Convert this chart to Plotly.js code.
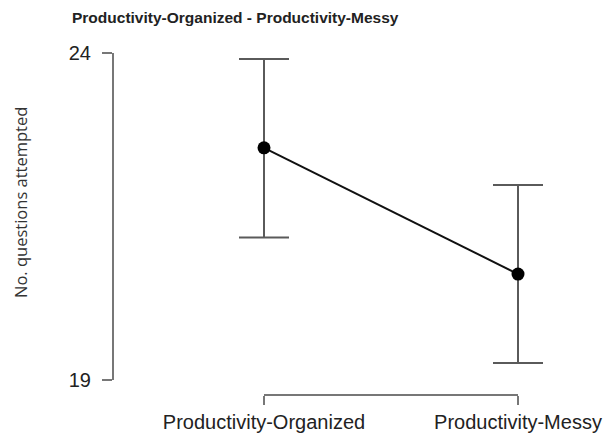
<!DOCTYPE html>
<html>
<head>
<meta charset="utf-8">
<script src="https://cdn.plot.ly/plotly-3.0.1.min.js"></script>
<style>html,body{margin:0;padding:0;background:#fff;}#chart{width:607px;height:438px;}</style>
</head>
<body>
<div id="chart"></div>
<script>
const categories = ["Productivity-Organized", "Productivity-Messy"];
const means = [22.55, 20.62];
const upperCI = [23.91, 21.98];
const lowerCI = [21.18, 19.26];
const yTickVals = [19, 24];
const yTickText = ["19", "24"];

const errPlus = means.map((m, i) => upperCI[i] - m);
const errMinus = means.map((m, i) => m - lowerCI[i]);

const W = 607, H = 438;
const plotL = 113, plotR = 548, plotT = 53, plotB = 395;
const y19 = 380;
const catL = 264, catR = 518;            // pixel positions of the two categories
const pxPerCat = catR - catL;
const padCat = 30 / pxPerCat;            // extra room so error-bar caps are not clipped
const dataDomL = (catL - 30 - plotL) / (plotR - plotL);

const mainTrace = {
  x: categories,
  y: means,
  xaxis: "x", yaxis: "y",
  type: "scatter",
  mode: "lines+markers",
  cliponaxis: false,
  line: {color: "#111", width: 2},
  marker: {color: "#000", size: 13},
  error_y: {
    type: "data", symmetric: false,
    array: errPlus, arrayminus: errMinus,
    color: "#5a5a5a", thickness: 2, width: 25
  },
  hoverinfo: "skip"
};

// helper trace on the bracket-style category axis (invisible)
const axisTrace = {
  x: categories, y: means, xaxis: "x2", yaxis: "y",
  type: "scatter", mode: "markers",
  marker: {opacity: 0}, hoverinfo: "skip", showlegend: false
};

const tickFont = {family: "Liberation Sans, Arial, sans-serif", size: 20, color: "#222"};

const layout = {
  width: W, height: H,
  margin: {l: plotL, r: W - plotR, t: plotT, b: H - plotB, pad: 0},
  paper_bgcolor: "#fff", plot_bgcolor: "rgba(0,0,0,0)",
  showlegend: false,
  title: {
    text: "<b>Productivity-Organized - Productivity-Messy</b>",
    font: {family: "Liberation Sans, Arial, sans-serif", size: 15.5, color: "#222"},
    xref: "container", yref: "container",
    x: 72 / W, xanchor: "left",
    y: 1 - 18 / H, yanchor: "middle"
  },
  xaxis: {
    type: "category",
    domain: [dataDomL, 1],
    range: [-padCat, 1 + padCat],
    anchor: "y",
    visible: false,
    fixedrange: true
  },
  xaxis2: {
    type: "category",
    domain: [(catL - plotL) / (plotR - plotL), (catR - plotL) / (plotR - plotL)],
    range: [0, 1],
    anchor: "free", position: 0,
    showgrid: false, zeroline: false,
    showline: true, linecolor: "#777", linewidth: 2,
    ticks: "outside", ticklen: 9, tickcolor: "#777", tickwidth: 2,
    tickfont: tickFont,
    automargin: false, fixedrange: true
  },
  yaxis: {
    domain: [(plotB - y19) / (plotB - plotT), 1],
    range: [19, 24],
    anchor: "free", position: 0,
    tickmode: "array", tickvals: yTickVals, ticktext: yTickText,
    showgrid: false, zeroline: false,
    showline: true, linecolor: "#777", linewidth: 2,
    ticks: "outside", ticklen: 10, tickcolor: "#777", tickwidth: 2,
    ticklabelstandoff: 7,
    tickfont: tickFont,
    automargin: false, fixedrange: true
  },
  annotations: [{
    text: "No. questions attempted",
    textangle: -90,
    xref: "paper", yref: "paper",
    x: (20 - plotL) / (plotR - plotL), xanchor: "center",
    y: (plotB - 203) / (plotB - plotT), yanchor: "middle",
    showarrow: false,
    font: {family: "Open Sans, sans-serif", size: 16.5, color: "#333"}
  }]
};

Plotly.newPlot("chart", [mainTrace, axisTrace], layout, {displayModeBar: false, staticPlot: true});
</script>
</body>
</html>
